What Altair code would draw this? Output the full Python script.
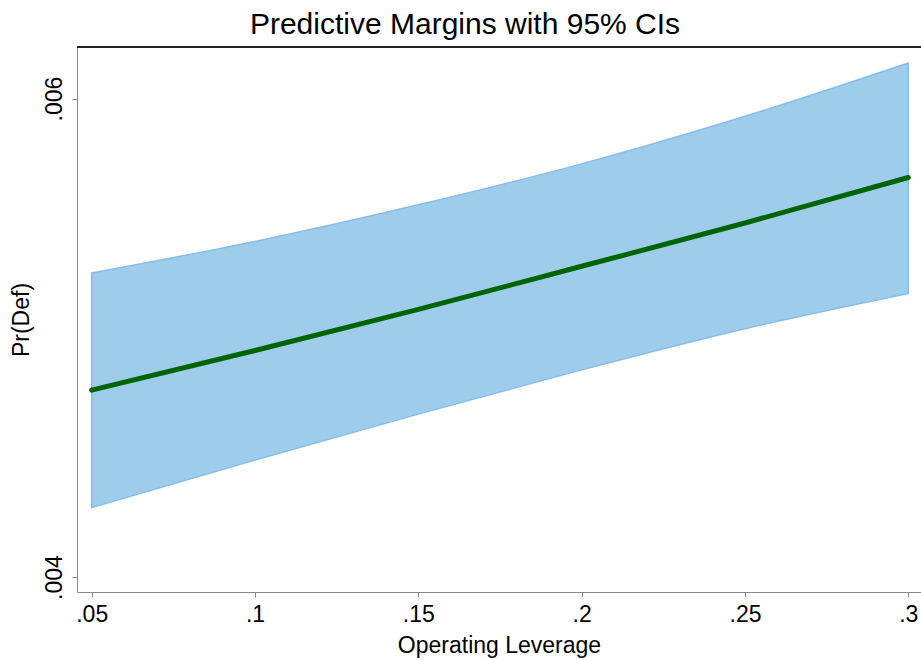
import altair as alt
import pandas as pd

# Values
lev = [0.05, 0.10, 0.15, 0.20, 0.25, 0.30]
margin = [0.004781, 0.004947, 0.005119, 0.005299, 0.005480, 0.005670]
ci_low = [0.004290, 0.004489, 0.004681, 0.004866, 0.005038, 0.005185]
ci_high = [0.005271, 0.005403, 0.005556, 0.005727, 0.005926, 0.006149]

x_ticks = [0.05, 0.10, 0.15, 0.20, 0.25, 0.30]
y_ticks = [0.004, 0.006]

df = pd.DataFrame({"lev": lev, "margin": margin, "lo": ci_low, "hi": ci_high})

W, H = 844, 545
FONT = "Liberation Sans"
lab = "substring(format(datum.value, '.3~f'), 1)"

xscale = alt.Scale(domain=[0.0455, 0.30389], nice=False, zero=False)
yscale = alt.Scale(domain=[0.0039373, 0.0062157], nice=False, zero=False)

xaxis = alt.Axis(values=x_ticks, labelExpr=lab, title="Operating Leverage",
                 grid=False, labelFontSize=23, titleFontSize=23,
                 titleFontWeight="normal", titleFont=FONT, labelFont=FONT,
                 labelPadding=6, titlePadding=8, labelFlush=False)
yaxis = alt.Axis(values=y_ticks, labelExpr=lab, title="Pr(Def)",
                 grid=False, labelFontSize=23, titleFontSize=23,
                 titleFontWeight="normal", titleFont=FONT, labelFont=FONT,
                 labelAngle=270, labelAlign="center", labelBaseline="bottom",
                 labelPadding=6, titlePadding=10, labelFlush=False)

band = alt.Chart(df).mark_area(color="#9DCDEB", opacity=1, stroke="#86BEE8",
                               strokeWidth=1.5, interpolate="monotone").encode(
    x=alt.X("lev:Q", scale=xscale, axis=xaxis),
    y=alt.Y("lo:Q", scale=yscale, axis=yaxis),
    y2="hi:Q",
)

line = alt.Chart(df).mark_line(color="#006400", strokeWidth=5, strokeCap="round",
                               interpolate="monotone").encode(
    x=alt.X("lev:Q", scale=xscale),
    y=alt.Y("margin:Q", scale=yscale),
)

top = alt.Chart(df).mark_rule(color="#222222", strokeWidth=2).encode(
    x=alt.value(0), x2=alt.value(W), y=alt.value(0)
)

chart = (band + line + top).properties(
    width=W, height=H,
    autosize=alt.AutoSizeParams(type="none"),
    padding={"left": 77, "top": 47, "right": 0, "bottom": 68},
    title=alt.TitleParams("Predictive Margins with 95% CIs", fontSize=30,
                          font=FONT, fontWeight="normal", color="black",
                          anchor="middle", dx=-34, offset=6),
).configure_view(stroke=None).configure_axis(
    domainColor="black", domainWidth=2, tickColor="black", tickWidth=1.5,
    tickSize=9, labelColor="black", titleColor="black",
).configure(background="white")

chart.save("out.html", embed_options={"renderer": "svg", "actions": False})
